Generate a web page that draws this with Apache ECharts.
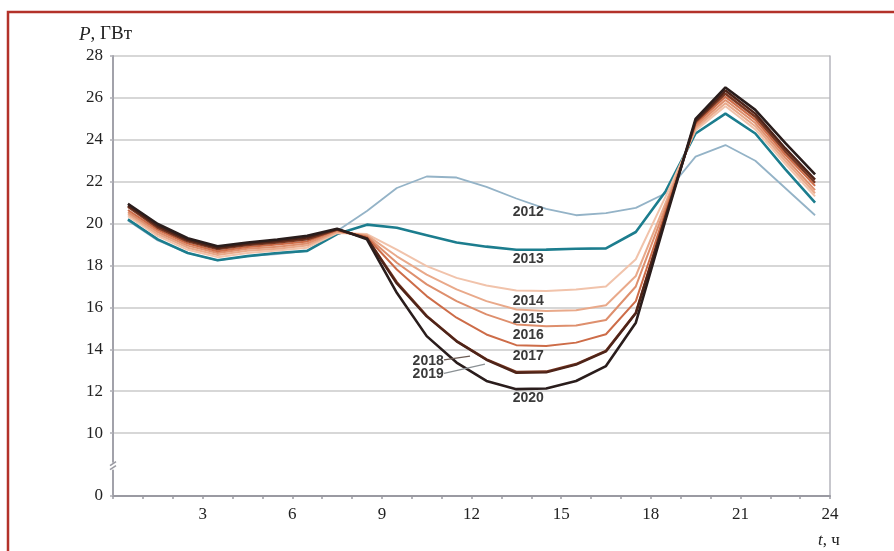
<!DOCTYPE html>
<html><head><meta charset="utf-8">
<script src="https://cdn.jsdelivr.net/npm/echarts@6/dist/echarts.min.js"></script>
<style>html,body{margin:0;padding:0;background:#fff}#c{width:894px;height:551px}</style>
</head><body><div id="c"></div>
<script>
// ---- data ----
const hours = [0.5,1.5,2.5,3.5,4.5,5.5,6.5,7.5,8.5,9.5,10.5,11.5,12.5,13.5,14.5,15.5,16.5,17.5,18.5,19.5,20.5,21.5,22.5,23.5];
const years = ['2012','2013','2014','2015','2016','2017','2018','2019','2020'];
const s2012 = [20.15,19.2,18.6,18.25,18.45,18.55,18.7,19.65,20.6,21.7,22.25,22.2,21.75,21.2,20.7,20.4,20.5,20.75,21.45,23.2,23.75,23.0,21.7,20.4];
const s2013 = [20.2,19.25,18.6,18.25,18.45,18.6,18.7,19.5,19.95,19.8,19.45,19.1,18.9,18.75,18.76,18.8,18.82,19.6,21.55,24.3,25.25,24.3,22.6,21.0];
const s2014 = [20.35,19.4,18.75,18.4,18.6,18.72,18.85,19.55,19.5,18.76,17.97,17.41,17.05,16.81,16.78,16.86,17.0,18.3,21.3,24.45,25.6,24.5,22.85,21.3];
const s2015 = [20.45,19.5,18.85,18.5,18.7,18.8,18.95,19.6,19.45,18.44,17.57,16.86,16.3,15.9,15.83,15.87,16.1,17.5,21.0,24.55,25.75,24.65,23.0,21.45];
const s2016 = [20.55,19.6,18.95,18.6,18.8,18.9,19.05,19.65,19.4,18.13,17.1,16.3,15.67,15.19,15.1,15.14,15.4,17.0,20.8,24.65,25.9,24.8,23.15,21.6];
const s2017 = [20.65,19.7,19.05,18.68,18.88,19.0,19.15,19.7,19.35,17.81,16.54,15.51,14.71,14.2,14.16,14.32,14.72,16.3,20.6,24.75,26.05,24.95,23.3,21.8];
const s2018 = [20.8,19.8,19.15,18.78,18.98,19.1,19.25,19.72,19.3,17.2,15.6,14.4,13.52,12.92,12.94,13.3,13.93,15.75,20.4,24.85,26.2,25.1,23.45,21.95];
const s2019 = [20.87,19.88,19.22,18.84,19.04,19.17,19.33,19.74,19.3,17.14,15.57,14.38,13.5,12.88,12.9,13.27,13.9,15.72,20.35,24.9,26.35,25.25,23.6,22.1];
const s2020 = [20.95,19.98,19.3,18.92,19.1,19.24,19.42,19.76,19.25,16.7,14.63,13.37,12.49,12.1,12.13,12.49,13.2,15.27,20.2,25.0,26.5,25.43,23.85,22.35];
const yTicks = [10,12,14,16,18,20,22,24,26,28];
const yBreakValue = 7;      // axis position standing for the broken-off zero
const yBreakLabel = '0';
const xTicks = [3,6,9,12,15,18,21,24];
const yAxisTitle = 'ГВт';
const xAxisTitle = 'ч';

// ---- styles ----
const allSeries = [s2012,s2013,s2014,s2015,s2016,s2017,s2018,s2019,s2020];
const colors = ['#94b3c7','#1c7d8e','#f1c3ab','#e9a98a','#de8f6d','#cd6c48','#7a3822','#4e2419','#2a1d1c'];
const widths = [1.8,2.6,2,2,2,2,2.4,2.4,2.6];
const serif = '"Liberation Serif", "DejaVu Serif", serif';
const sans = '"Liberation Sans", Arial, sans-serif';

const chart = echarts.init(document.getElementById('c'));
const yLabelVals = [yBreakValue].concat(yTicks);

chart.setOption({
  backgroundColor: '#fff',
  animation: false,
  title: [
    {text: '{i|P}, ' + yAxisTitle, left: 74, top: 20,
     textStyle: {fontFamily: serif, fontSize: 19, fontWeight: 'normal', color: '#222',
       rich: {i: {fontFamily: serif, fontStyle: 'italic', fontSize: 19, color: '#222'}}}},
    {text: '{i|t}, ' + xAxisTitle, left: 813, top: 527,
     textStyle: {fontFamily: serif, fontSize: 17, fontWeight: 'normal', color: '#222',
       rich: {i: {fontFamily: serif, fontStyle: 'italic', fontSize: 17, color: '#222'}}}}
  ],
  grid: {left: 113, right: 64, top: 56, bottom: 55, containLabel: false},
  xAxis: {
    type: 'value', min: 0, max: 24, interval: 3,
    axisLine: {show: true, lineStyle: {color: '#9a9aa2', width: 2}},
    axisTick: {show: true, length: 3, inside: false, lineStyle: {color: '#9a9aa2', width: 1.5}},
    minorTick: {show: true, splitNumber: 3, length: 3, lineStyle: {color: '#9a9aa2', width: 1.5}},
    splitLine: {show: false},
    axisLabel: {margin: 10, fontFamily: serif, fontSize: 17, color: '#222',
      formatter: v => xTicks.indexOf(v) >= 0 ? String(v) : ''}
  },
  yAxis: [{
    type: 'value', min: yBreakValue, max: 28,
    axisLine: {show: true, lineStyle: {color: '#a2a2aa', width: 2}},
    axisTick: {show: true, length: 3, customValues: yLabelVals, lineStyle: {color: '#b0b0b6', width: 1.5}},
    splitLine: {show: true, lineStyle: {color: '#cacaca', width: 1.5}},
    axisLabel: {margin: 10, fontFamily: serif, fontSize: 17, color: '#222', customValues: yLabelVals,
      formatter: v => v === yBreakValue ? yBreakLabel : String(v)}
  }, {
    type: 'value', min: yBreakValue, max: 28, position: 'right',
    axisLine: {show: true, lineStyle: {color: '#b4b4bc', width: 1.5}},
    axisTick: {show: false}, axisLabel: {show: false}, splitLine: {show: false}
  }],
  series: allSeries.map((arr, k) => ({
    name: years[k], type: 'line', symbol: 'none', smooth: false,
    data: hours.map((h, i) => [h, arr[i]]),
    lineStyle: {color: colors[k], width: widths[k]},
    z: 2 + k
  }))
});

// annotations anchored in data coordinates
const P = (t, v) => chart.convertToPixel({gridIndex: 0}, [t, v]);
const labelPos = {
  '2012': [13.9, 20.55], '2013': [13.9, 18.3], '2014': [13.9, 16.3], '2015': [13.9, 15.45],
  '2016': [13.9, 14.7], '2017': [13.9, 13.68], '2018': [10.55, 13.45], '2019': [10.55, 12.8],
  '2020': [13.9, 11.65]
};
const graphics = [];
years.forEach(y => {
  const p = P(labelPos[y][0], labelPos[y][1]);
  graphics.push({type: 'text', x: p[0], y: p[1], z: 100,
    style: {text: y, fill: '#3a3a3a', font: 'bold 14px ' + sans, textAlign: 'center', textVerticalAlign: 'middle'}});
});
const leaders = [
  [[11.08, 13.5], [11.95, 13.68], '#6b5a52'],
  [[11.08, 12.85], [12.45, 13.29], '#8a9094']
];
leaders.forEach(l => {
  const a = P(l[0][0], l[0][1]), b = P(l[1][0], l[1][1]);
  graphics.push({type: 'line', z: 100, shape: {x1: a[0], y1: a[1], x2: b[0], y2: b[1]},
    style: {stroke: l[2], lineWidth: 1.3}});
});
// axis break mark
const bk = P(0, 8.4);
graphics.push({type: 'rect', z: 120, shape: {x: bk[0] - 3, y: bk[1] - 4, width: 6, height: 7}, style: {fill: '#fff'}});
graphics.push({type: 'line', z: 121, shape: {x1: bk[0] - 3, y1: bk[1] - 1, x2: bk[0] + 3, y2: bk[1] - 5}, style: {stroke: '#9a9aa2', lineWidth: 1.5}});
graphics.push({type: 'line', z: 121, shape: {x1: bk[0] - 3, y1: bk[1] + 3, x2: bk[0] + 3, y2: bk[1] - 1}, style: {stroke: '#9a9aa2', lineWidth: 1.5}});
// red frame
graphics.push({type: 'rect', z: 130, shape: {x: 8, y: 12, width: 1200, height: 1200},
  style: {fill: 'none', stroke: '#b3322a', lineWidth: 2.5}});
chart.setOption({graphic: graphics});
</script>
</body></html>
